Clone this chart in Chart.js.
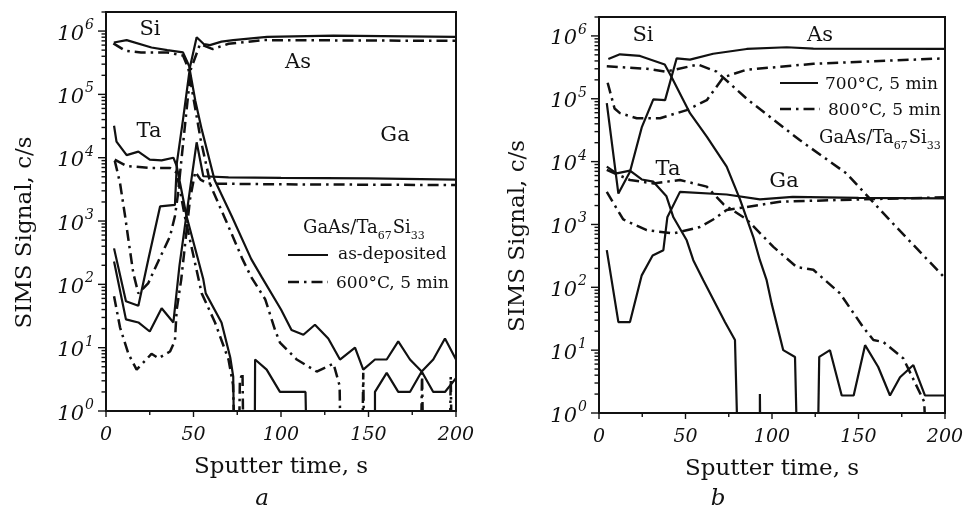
<!DOCTYPE html>
<html lang="en">
<head>
<meta charset="UTF-8">
<title>SIMS depth profiles, GaAs/Ta67Si33</title>
<script src="https://cdn.jsdelivr.net/npm/chart.js"></script>
<style>
  body { margin: 0; background: #fff; }
  #fig { position: relative; width: 963px; height: 523px; overflow: hidden; font-family: "DejaVu Serif", serif; color: #111; }
  canvas { position: absolute; top: 0; }
  #cA { left: 0; }
  #cB { left: 480px; }
  .tag { position: absolute; top: 484px; width: 40px; margin-left: -20px; text-align: center; font-style: italic; font-size: 23px; }
</style>
</head>
<body>
<div id="fig">
  <canvas id="cA" width="480" height="523"></canvas>
  <canvas id="cB" width="483" height="523"></canvas>
  <div class="tag" style="left:262px">a</div>
  <div class="tag" style="left:718px">b</div>
</div>
<script>
const ZERO = 0.3; // no counts: drawn below the 10^0 floor and clipped

// axes
const xTicks = [0, 50, 100, 150, 200];
const xMinorStep = 25;
const yDecades = [0, 1, 2, 3, 4, 5, 6];

// panel a: as-deposited (solid)  [time s, counts/s]
const aSi0 = [[4.5,6.6e5],[11.8,7.2e5],[26,5.5e5],[35,5e5],[44,4.6e5],[47.5,2.8e5],[51,8e4],[54.7,2.8e4],[62,4.5e3],[71.8,1.2e3],[83,250],[89,130],[100,40],[106,19],[112.8,16],[119.4,23],[127,14],[133.7,6.5],[142.3,10],[147,4.5],[153.7,6.5],[160.4,6.5],[167,12.6],[173.7,6.5],[180.4,4.2],[187,2],[193.7,2],[200,3.3]];
const aTa0 = [[4.6,3.2e4],[6,1.8e4],[11.8,1.1e4],[18.5,1.25e4],[25,9.3e3],[31.8,9.1e3],[38.5,1e4],[40.4,7.4e3],[46,1.2e3],[55.6,120],[57,72],[66,25],[71,7],[72.7,3.5],[73.2,ZERO],[85,ZERO],[85.2,6.5],[91.8,4.5],[99.4,2],[114,2],[114.6,ZERO],[153.4,ZERO],[153.7,2],[160.4,4],[167,2],[173.7,2],[180.4,4.2],[187,6.5],[193.7,14],[200,6.5]];
const aAs0 = [[4.6,370],[11.4,54],[18.5,46],[24.2,250],[30.9,1.7e3],[39.4,1.8e3],[40.5,8.3e3],[44,4e4],[48,2.7e5],[51.8,8e5],[56,6.2e5],[59.4,6e5],[66,6.8e5],[72.7,7.2e5],[92,8.1e5],[130,8.5e5],[200,8.1e5]];
const aGa0 = [[4.6,230],[11.4,28],[18.5,25],[25,18],[31.8,42],[38.5,25],[42,200],[47,2e3],[51.8,1.75e4],[55.6,5.1e3],[70,4.9e3],[100,4.8e3],[150,4.7e3],[200,4.5e3]];

// panel a: 600 °C, 5 min (dash-dot)
const aSi6 = [[4.2,6.4e5],[11,4.9e5],[20,4.6e5],[35,4.6e5],[44,4.1e5],[47,2.6e5],[51,6e4],[54,2e4],[60,3.5e3],[68,1.1e3],[78,250],[83,130],[91,58],[96.6,19],[99.4,12],[109,6.5],[120.4,4.2],[130,5.6],[133.5,2.5],[134,ZERO],[146.5,ZERO],[147,4],[147.5,ZERO],[180,ZERO],[180.6,4],[181.2,ZERO],[196.5,ZERO],[197,3.5],[197.5,ZERO],[200,ZERO]];
const aTa6 = [[5,9.3e3],[11.8,7.4e3],[25,6.9e3],[36.6,6.9e3],[40.4,5.8e3],[45,1.2e3],[50,280],[54.7,72],[62.3,25],[70,6.5],[72.6,2.6],[73.5,ZERO],[76,ZERO],[76.5,3],[78,4],[78.5,ZERO],[200,ZERO]];
const aAs6 = [[5,9e3],[8,4e3],[10.9,1.2e3],[12.8,510],[15.6,150],[18.5,72],[24.2,105],[29.5,220],[36.6,575],[39.4,1.2e3],[41,2.5e3],[45,3e4],[48.5,2.5e5],[53.7,6.2e5],[61,5.2e5],[70,6.3e5],[90,7.2e5],[200,7e5]];
const aGa6 = [[4.6,65],[8,21],[12.8,8],[17.5,4.5],[23,6.5],[26,8],[30,6.8],[36.6,8.7],[39.4,13],[40.4,40],[43,120],[48,2.2e3],[51,6e3],[54,4.5e3],[58,3.9e3],[100,3.8e3],[200,3.7e3]];

// panel b: 700 °C, 5 min (solid)
const bSi7 = [[5.4,4.3e5],[12.1,5.1e5],[23.7,4.8e5],[38,3.5e5],[42,2.2e5],[52.6,5.9e4],[62.3,2.5e4],[73.8,8.3e3],[81.5,2.5e3],[89.2,630],[93,270],[96.9,130],[99.8,55],[106.5,10],[113.3,7.8],[114.5,ZERO],[126.5,ZERO],[127.3,7.8],[133.5,10],[140.3,1.9],[147.2,1.9],[153.8,12],[161.4,5.4],[168.2,1.9],[174,3.7],[181.7,5.8],[188.4,1.9],[200,1.9]];
const bTa7 = [[4.5,8.3e3],[10.2,6.5e3],[17.9,7.2e3],[24.7,5.2e3],[31.4,4.8e3],[39,2.8e3],[43,1.3e3],[50.7,560],[54.5,270],[60.3,130],[72.8,28],[78.6,14.5],[80.2,ZERO],[92.7,ZERO],[93,2],[93.3,ZERO],[200,ZERO]];
const bAs7 = [[4.5,8.5e4],[11.2,3.1e3],[17.9,6.9e3],[24.7,3.5e4],[31.4,9.8e4],[38.2,9.5e4],[44.9,4.4e5],[52.6,4.2e5],[66,5.2e5],[85.4,6.2e5],[108.5,6.6e5],[123.9,6.3e5],[200,6.2e5]];
const bGa7 = [[4.5,390],[11.2,28],[17.9,28],[24.7,155],[31,320],[37.2,390],[39.5,1.3e3],[46.8,3.3e3],[73.8,3e3],[93,2.5e3],[112,2.75e3],[150,2.65e3],[200,2.6e3]];

// panel b: 800 °C, 5 min (dash-dot)
const bSi8 = [[4.5,3.3e5],[27.6,3e5],[38.6,2.7e5],[57.2,3.5e5],[68,2.7e5],[85.4,1e5],[116,2.2e4],[143,6.5e3],[172,900],[199,150]];
const bAs8 = [[5,1.8e5],[9,7e4],[12.1,5.9e4],[21.8,4.9e4],[35.3,4.9e4],[50.7,6.6e4],[62.3,9.5e4],[71.9,2.2e5],[85.4,2.9e5],[124,3.6e5],[200,4.4e5]];
const bTa8 = [[4.5,7.4e3],[17.9,5.1e3],[31.4,4.5e3],[46.8,5.1e3],[62.3,4e3],[71.9,2.1e3],[85.4,1.2e3],[100.8,440],[114.3,210],[123.9,190],[139.3,80],[152.8,23],[158.6,14.5],[164.3,13.5],[175.9,7.4],[188,1.5],[189,ZERO],[200,ZERO]];
const bGa8 = [[4.5,3.3e3],[14,1.2e3],[27.6,810],[43,720],[58.4,910],[66,1.2e3],[73.8,1.7e3],[85.4,1.9e3],[104.6,2.3e3],[150,2.5e3],[200,2.7e3]];

const INK = '#111';
const SERIF = '"DejaVu Serif", serif';
const DASHDOT = [11, 5, 2.5, 5];

function solid(data) {
  return { data, borderColor: INK, borderWidth: 2.2, pointRadius: 0, tension: 0, borderJoinStyle: 'bevel', clip: 1 };
}
function dashdot(data) {
  return { data, borderColor: INK, borderWidth: 2.5, borderDash: DASHDOT, pointRadius: 0, tension: 0, borderJoinStyle: 'bevel', clip: 1 };
}

// write a run of text pieces, some of them subscripts
function runText(ctx, parts, x, cy, size) {
  let cx = x;
  const base = cy + size * 0.36;
  for (const p of parts) {
    const s = p.sub ? Math.round(size * 0.6) : size;
    ctx.font = s + 'px ' + SERIF;
    ctx.textAlign = 'left';
    ctx.fillText(p.t, cx, p.sub ? base + size * 0.28 : base);
    cx += ctx.measureText(p.t).width + (p.sub ? 1 : 0);
  }
}

const decor = {
  id: 'decor',
  afterDraw(chart, args, o) {
    const ctx = chart.ctx, a = chart.chartArea;
    const xs = chart.scales.x, ys = chart.scales.y;
    const ox = o.offsetX;
    ctx.save();
    ctx.strokeStyle = INK;
    ctx.fillStyle = INK;
    ctx.textBaseline = 'alphabetic';

    ctx.lineWidth = 2;
    ctx.strokeRect(a.left, a.top, a.right - a.left, a.bottom - a.top);

    // log ticks on the left
    ctx.lineWidth = 1.4;
    for (const e of yDecades) {
      for (let m = 1; m <= 9; m++) {
        const v = m * Math.pow(10, e);
        if (v > ys.max) break;
        const py = ys.getPixelForValue(v);
        const len = m === 1 ? 8 : 4.5;
        ctx.beginPath();
        ctx.moveTo(a.left, py);
        ctx.lineTo(a.left - len, py);
        ctx.stroke();
      }
      const py = ys.getPixelForValue(Math.pow(10, e));
      ctx.font = 'italic 21px ' + SERIF;
      ctx.textAlign = 'right';
      ctx.fillText('10', a.left - 22, py + 8.5);
      ctx.font = 'italic 14px ' + SERIF;
      ctx.textAlign = 'left';
      ctx.fillText(String(e), a.left - 21, py - 2);
    }

    // time ticks
    for (let t = xs.min; t <= xs.max; t += xMinorStep) {
      const px = xs.getPixelForValue(t);
      const len = xTicks.includes(t) ? 6 : 4;
      ctx.beginPath();
      ctx.moveTo(px, a.bottom);
      ctx.lineTo(px, a.bottom + len);
      ctx.stroke();
    }
    ctx.font = 'italic 19px ' + SERIF;
    ctx.textAlign = 'center';
    for (const t of xTicks) {
      ctx.fillText(String(t), xs.getPixelForValue(t), a.bottom + 29);
    }

    // axis titles
    ctx.font = '23px ' + SERIF;
    ctx.textAlign = 'center';
    ctx.fillText('Sputter time, s', (a.left + a.right) / 2, a.bottom + 62);
    ctx.save();
    ctx.translate(a.left - 75, (a.top + a.bottom) / 2 + 21);
    ctx.rotate(-Math.PI / 2);
    ctx.fillText('SIMS Signal, c/s', 0, 0);
    ctx.restore();

    // element names
    ctx.font = '21px ' + SERIF;
    ctx.textAlign = 'center';
    for (const n of o.names) {
      ctx.fillText(n.t, n.x - ox, n.y + 7.5);
    }

    // key
    for (const k of o.key) {
      ctx.lineWidth = k.dash ? 2.5 : 2.2;
      ctx.setLineDash(k.dash ? DASHDOT : []);
      ctx.beginPath();
      ctx.moveTo(k.x0 - ox, k.y);
      ctx.lineTo(k.x1 - ox, k.y);
      ctx.stroke();
      ctx.setLineDash([]);
      runText(ctx, [{ t: k.label }], k.tx - ox, k.ty, 17);
    }
    runText(ctx, [{ t: 'GaAs/Ta' }, { t: '67', sub: true }, { t: 'Si' }, { t: '33', sub: true }], o.sample.x - ox, o.sample.y, 18);
    ctx.restore();
  }
};

function makePanel(id, sets, pad, yWidth, xHeight, deco) {
  return new Chart(document.getElementById(id), {
    type: 'line',
    data: { datasets: sets },
    options: {
      responsive: false,
      animation: false,
      events: [],
      layout: { padding: pad },
      scales: {
        x: {
          type: 'linear', min: 0, max: 200,
          grid: { display: false }, border: { display: false }, ticks: { display: false },
          afterFit(s) { s.height = xHeight; }
        },
        y: {
          type: 'logarithmic', min: 1, max: 2e6,
          grid: { display: false }, border: { display: false }, ticks: { display: false },
          afterFit(s) { s.width = yWidth; }
        }
      },
      plugins: { legend: { display: false }, tooltip: { enabled: false }, decor: deco }
    },
    plugins: [decor]
  });
}

makePanel('cA',
  [solid(aSi0), solid(aTa0), solid(aAs0), solid(aGa0), dashdot(aSi6), dashdot(aTa6), dashdot(aAs6), dashdot(aGa6)],
  { top: 12, right: 24, left: 0, bottom: 0 }, 106, 112,
  {
    offsetX: 0,
    names: [{ t: 'Si', x: 150, y: 27 }, { t: 'As', x: 298, y: 60 }, { t: 'Ta', x: 149, y: 129 }, { t: 'Ga', x: 395, y: 133 }],
    key: [
      { x0: 288, x1: 328, y: 255, tx: 338, ty: 253, label: 'as-deposited', dash: false },
      { x0: 288, x1: 328, y: 282, tx: 336, ty: 282, label: '600°C, 5 min', dash: true }
    ],
    sample: { x: 303, y: 227 }
  });

makePanel('cB',
  [solid(bSi7), solid(bTa7), solid(bAs7), solid(bGa7), dashdot(bSi8), dashdot(bTa8), dashdot(bAs8), dashdot(bGa8)],
  { top: 17, right: 18, left: 0, bottom: 0 }, 119, 110,
  {
    offsetX: 480,
    names: [{ t: 'Si', x: 643, y: 33 }, { t: 'As', x: 820, y: 33 }, { t: 'Ta', x: 668, y: 167 }, { t: 'Ga', x: 784, y: 179 }],
    key: [
      { x0: 780, x1: 818, y: 83, tx: 825, ty: 83, label: '700°C, 5 min', dash: false },
      { x0: 780, x1: 820, y: 109, tx: 828, ty: 109, label: '800°C, 5 min', dash: true }
    ],
    sample: { x: 819, y: 137 }
  });
</script>
</body>
</html>
